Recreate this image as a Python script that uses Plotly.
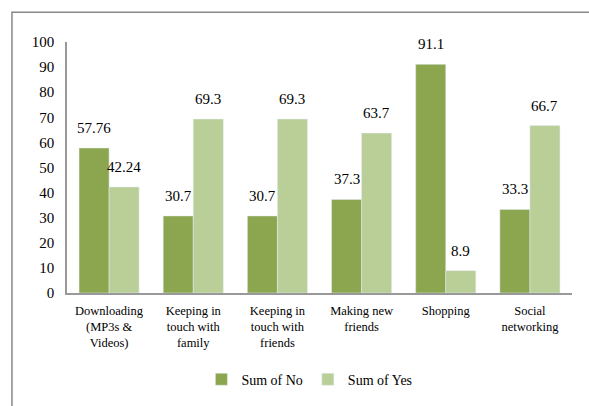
import plotly.graph_objects as go

categories = ["Downloading<br>(MP3s &<br>Videos)", "Keeping in<br>touch with<br>family",
              "Keeping in<br>touch with<br>friends", "Making new<br>friends", "Shopping",
              "Social<br>networking"]
no_values = [57.76, 30.7, 30.7, 37.3, 91.1, 33.3]
yes_values = [42.24, 69.3, 69.3, 63.7, 8.9, 66.7]
no_labels = ["57.76", "30.7", "30.7", "37.3", "91.1", "33.3"]
yes_labels = ["42.24", "69.3", "69.3", "63.7", "8.9", "66.7"]

DARK = "#8BA64F"
LIGHT = "#BACE98"
FONT = "Liberation Serif"

fig = go.Figure()
fig.add_trace(go.Bar(x=categories, y=no_values, name="Sum of No", marker_color=DARK))
fig.add_trace(go.Bar(x=categories, y=yes_values, name="Sum of Yes", marker_color=LIGHT))

annotations = []
for c, v, t in zip(categories, no_values, no_labels):
    annotations.append(dict(x=c, y=v, text=t, showarrow=False, xshift=-15, yshift=20,
                            font=dict(family=FONT, size=15, color="#000")))
for c, v, t in zip(categories, yes_values, yes_labels):
    annotations.append(dict(x=c, y=v, text=t, showarrow=False, xshift=15, yshift=20,
                            font=dict(family=FONT, size=15, color="#000")))

fig.update_layout(
    width=589, height=406,
    margin=dict(l=67, r=17, t=42, b=112),
    paper_bgcolor="white", plot_bgcolor="white",
    barmode="group", bargap=0.286, bargroupgap=0,
    font=dict(family=FONT, size=13, color="#000"),
    showlegend=True,
    legend=dict(orientation="h", x=0.48, xanchor="center", y=-0.34, yanchor="middle",
                font=dict(family=FONT, size=14), itemwidth=30, traceorder="normal"),
    annotations=annotations,
    shapes=[dict(type="rect", xref="paper", yref="paper", x0=-0.109, x1=1.1, y0=-0.5, y1=1.119,
                 line=dict(color="#888888", width=1.5), fillcolor="rgba(0,0,0,0)", layer="below")],
)
fig.update_xaxes(showline=True, linecolor="#999999", linewidth=1.5, ticks="outside", ticklen=5,
                 tickcolor="rgba(0,0,0,0)", tickangle=0,
                 tickfont=dict(family=FONT, size=12.5), showgrid=False)
fig.update_yaxes(range=[0, 100], dtick=10, showline=True, linecolor="#999999", linewidth=1.5,
                 ticks="", showgrid=False, zeroline=False, tickfont=dict(family=FONT, size=15),
                 ticklabelstandoff=8)

fig.write_html("out.html")
